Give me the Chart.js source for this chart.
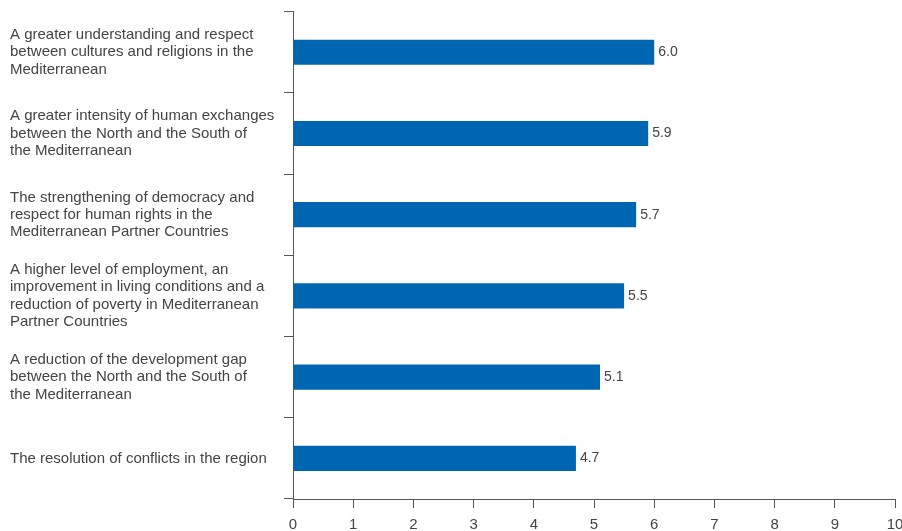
<!DOCTYPE html>
<html>
<head>
<meta charset="utf-8">
<script src="https://cdn.jsdelivr.net/npm/chart.js@4.4.1/dist/chart.umd.min.js"></script>
<style>
  html, body { margin: 0; padding: 0; background: #fff; overflow: hidden; }
  #wrap { width: 902px; height: 531px; }
</style>
</head>
<body>
<div id="wrap"><canvas id="chart" width="902" height="531"></canvas></div>
<script>
const categories = [
  ['A greater understanding and respect', 'between cultures and religions in the', 'Mediterranean'],
  ['A greater intensity of human exchanges', 'between the North and the South of', 'the Mediterranean'],
  ['The strengthening of democracy and', 'respect for human rights in the', 'Mediterranean Partner Countries'],
  ['A higher level of employment, an', 'improvement in living conditions and a', 'reduction of poverty in Mediterranean', 'Partner Countries'],
  ['A reduction of the development gap', 'between the North and the South of', 'the Mediterranean'],
  ['The resolution of conflicts in the region']
];
const scores = [6.0, 5.9, 5.7, 5.5, 5.1, 4.7];
const xTicks = [0, 1, 2, 3, 4, 5, 6, 7, 8, 9, 10];

const barBlue = '#0066b2';
const axisGrey = '#555555';
const textGrey = '#444444';
const font = "'Liberation Sans', Arial, sans-serif";

// writes the score just past the end of each bar
const valueLabels = {
  id: 'valueLabels',
  afterDatasetsDraw(chart) {
    const ctx = chart.ctx;
    const meta = chart.getDatasetMeta(0);
    ctx.save();
    ctx.font = '14px ' + font;
    ctx.fillStyle = textGrey;
    ctx.textAlign = 'left';
    ctx.textBaseline = 'middle';
    meta.data.forEach((bar, i) => {
      ctx.fillText(scores[i].toFixed(1), bar.x + 4, bar.y);
    });
    ctx.restore();
  }
};

new Chart(document.getElementById('chart'), {
  type: 'bar',
  data: {
    labels: categories,
    datasets: [{
      data: scores,
      backgroundColor: barBlue,
      borderWidth: 0,
      categoryPercentage: 1,
      barPercentage: 0.31
    }]
  },
  options: {
    indexAxis: 'y',
    responsive: false,
    animation: false,
    layout: { padding: { top: 10, left: 10, right: 7, bottom: 0 } },
    plugins: {
      legend: { display: false },
      tooltip: { enabled: false }
    },
    scales: {
      y: {
        grid: {
          offset: true,
          drawOnChartArea: false,
          drawTicks: true,
          tickLength: 9,
          color: axisGrey
        },
        border: { color: axisGrey, width: 1 },
        ticks: {
          autoSkip: false,
          crossAlign: 'far',
          color: textGrey,
          font: { family: font, size: 15, lineHeight: 1.15 }
        },
        afterFit(scale) { scale.width = 283; }
      },
      x: {
        min: 0,
        max: 10,
        afterBuildTicks(scale) { scale.ticks = xTicks.map(v => ({ value: v })); },
        grid: {
          drawOnChartArea: false,
          drawTicks: true,
          tickLength: 9,
          color: axisGrey
        },
        border: { color: axisGrey, width: 1 },
        ticks: {
          color: textGrey,
          padding: 8,
          maxRotation: 0,
          font: { family: font, size: 15 }
        },
        // the "10" is allowed to run off the right edge
        afterFit(scale) {
          scale.height = 32;
          scale.paddingLeft = 0;
          scale.paddingRight = 0;
        }
      }
    }
  },
  plugins: [valueLabels]
});
</script>
</body>
</html>
